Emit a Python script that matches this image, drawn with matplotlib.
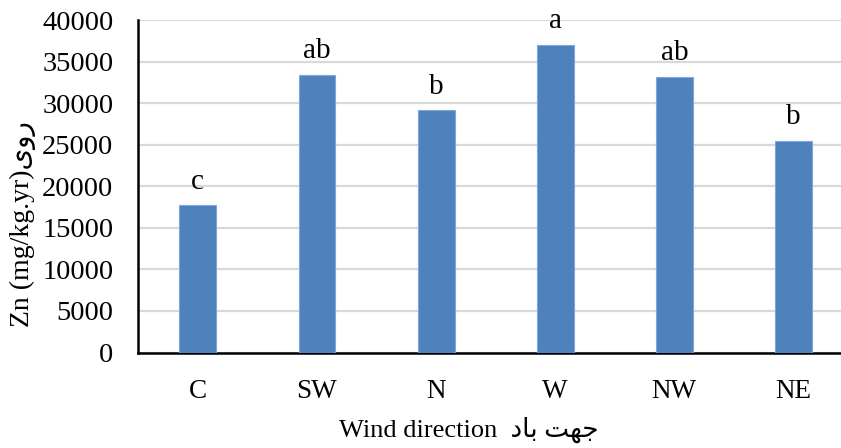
import matplotlib
matplotlib.use("Agg")
import matplotlib.pyplot as plt

# data
directions = ["C", "SW", "N", "W", "NW", "NE"]
zn_values = [17700, 33400, 29150, 37000, 33150, 25450]
letters = ["c", "ab", "b", "a", "ab", "b"]
y_ticks = [0, 5000, 10000, 15000, 20000, 25000, 30000, 35000, 40000]

# persian text, given in visual (left-to-right) order with presentation forms
fa_wind = "\uFEA9\uFE8E\uFE91 \uFE96\uFEEC\uFE9F"   # جهت باد
fa_zinc = "\u06CC\u0648\u0631"                       # روی

fonts = ["Liberation Serif", "DejaVu Sans"]
plt.rcParams["font.family"] = fonts

bar_color = "#4F81BD"
edge_color = "#7FA6D6"
grid_color = "#D9D9D9"

fig = plt.figure(figsize=(8.41, 4.48), dpi=100)
# plot area runs a little past the right edge of the picture, as in the original
ax = fig.add_axes([138.3 / 841, (448 - 352.5) / 448, (853 - 138.3) / 841, (352.5 - 20) / 448])

x = range(len(directions))
bars = ax.bar(x, zn_values, width=0.31, color=bar_color, edgecolor=edge_color,
              linewidth=0.8, zorder=3)

for xi, val, lab in zip(x, zn_values, letters):
    ax.annotate(lab, (xi, val), xytext=(0, 12), textcoords="offset points",
                ha="center", va="baseline", fontsize=21)

ax.set_xlim(-0.5, len(directions) - 0.5)
ax.set_ylim(0, 40000)
ax.set_yticks(y_ticks)
ax.set_yticklabels([str(t) for t in y_ticks], fontsize=20.5)
ax.set_xticks(list(x))
ax.set_xticklabels(directions, fontsize=19.5)
ax.tick_params(axis="both", length=0)
ax.tick_params(axis="y", pad=18)
ax.tick_params(axis="x", pad=19)

ax.yaxis.grid(True, color=grid_color, linewidth=1.6, zorder=0)
ax.set_axisbelow(True)
for side in ["top", "right"]:
    ax.spines[side].set_visible(False)
ax.spines["left"].set_linewidth(1.8)
ax.spines["bottom"].set_linewidth(1.8)

fig.text(23 / 841, 1 - 224 / 448, "Zn (mg/kg.yr)" + fa_zinc, rotation=90,
         ha="center", va="center", fontsize=20, family=fonts)
fig.text(469 / 841, 1 - 430 / 448, "Wind direction  " + fa_wind,
         ha="center", va="center", fontsize=19, family=fonts)

fig.savefig("out.png", dpi=100)
